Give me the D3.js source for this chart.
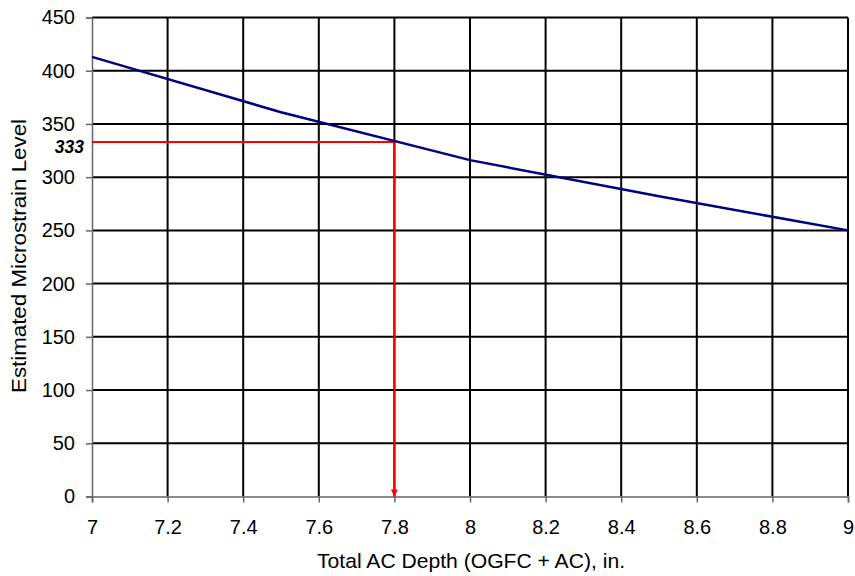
<!DOCTYPE html>
<html><head><meta charset="utf-8">
<script src="https://cdn.jsdelivr.net/npm/d3@7"></script>
<style>body{margin:0;background:#fff}svg{display:block}text{font-family:Arial,"Liberation Sans",sans-serif}</style>
</head><body>
<svg id="c" width="855" height="576"></svg>
<script>
const depthX = [7, 7.5, 8, 8.5, 9];
const strainY = [413, 361, 316, 282, 250];
const xTicks = [7, 7.2, 7.4, 7.6, 7.8, 8, 8.2, 8.4, 8.6, 8.8, 9];
const yTicks = [0, 50, 100, 150, 200, 250, 300, 350, 400, 450];
const markX = [7.8];
const markY = [333];
const xTitle = "Total AC Depth (OGFC + AC), in.";
const yTitle = "Estimated Microstrain Level";

const svg = d3.select("#c");
const m = {l:92, r:848, t:17.5, b:496.5};
const x = d3.scaleLinear().domain([7, 9]).range([m.l, m.r]);
const y = d3.scaleLinear().domain([0, 450]).range([m.b, m.t]);

// grid
const g = svg.append("g");
g.selectAll(".vg").data(xTicks.slice(1)).join("line")
  .attr("x1", d => x(d)).attr("x2", d => x(d)).attr("y1", m.t).attr("y2", m.b)
  .attr("stroke", "#000").attr("stroke-width", 2);
g.selectAll(".hg").data(yTicks.slice(1)).join("line")
  .attr("x1", m.l).attr("x2", m.r).attr("y1", d => y(d)).attr("y2", d => y(d))
  .attr("stroke", "#000").attr("stroke-width", 2);

// axes
const xa = svg.append("g").attr("transform", `translate(0,${m.b})`)
  .call(d3.axisBottom(x).tickValues(xTicks).tickFormat(d3.format("")).tickSize(6).tickPadding(17));
const ya = svg.append("g").attr("transform", `translate(${m.l},0)`)
  .call(d3.axisLeft(y).tickValues(yTicks).tickSize(6).tickPadding(11));
[xa, ya].forEach(a => {
  a.attr("font-size", 20).attr("font-family", "Arial, 'Liberation Sans', sans-serif");
  a.select(".domain").attr("stroke", "#666").attr("stroke-width", 1.5);
  a.selectAll(".tick line").attr("stroke", "#666").attr("stroke-width", 1.5);
  a.selectAll(".tick text").attr("fill", "#000");
});

// red guide
const defs = svg.append("defs");
defs.append("marker").attr("id", "ah").attr("viewBox", "0 0 10 10")
  .attr("refX", 10).attr("refY", 5).attr("markerWidth", 4).attr("markerHeight", 3.5)
  .attr("markerUnits", "strokeWidth").attr("orient", "auto")
  .append("path").attr("d", "M0,0L10,5L0,10Z").attr("fill", "#f00");
svg.append("path")
  .attr("d", `M${x(7)},${y(markY[0])}H${x(markX[0])}V${y(0)}`)
  .attr("fill", "none").attr("stroke", "#f00").attr("stroke-width", 2)
  .attr("marker-end", "url(#ah)");
svg.append("text").attr("x", m.l - 8).attr("y", y(markY[0]) + 11)
  .attr("text-anchor", "end").attr("font-size", 17.5).attr("font-weight", "bold")
  .attr("font-style", "italic").text(markY[0]);

// data line
svg.append("path").datum(depthX.map((d, i) => [d, strainY[i]]))
  .attr("d", d3.line().x(d => x(d[0])).y(d => y(d[1])))
  .attr("fill", "none").attr("stroke", "#000080").attr("stroke-width", 2.5);

// titles
svg.append("text").attr("x", 471).attr("y", 568).attr("text-anchor", "middle")
  .attr("font-size", 20.5).attr("textLength", 308).attr("lengthAdjust", "spacingAndGlyphs").text(xTitle);
svg.append("text").attr("transform", `translate(26,256) rotate(-90)`)
  .attr("text-anchor", "middle").attr("font-size", 20.5)
  .attr("textLength", 274).attr("lengthAdjust", "spacingAndGlyphs").text(yTitle);
</script>
</body></html>
